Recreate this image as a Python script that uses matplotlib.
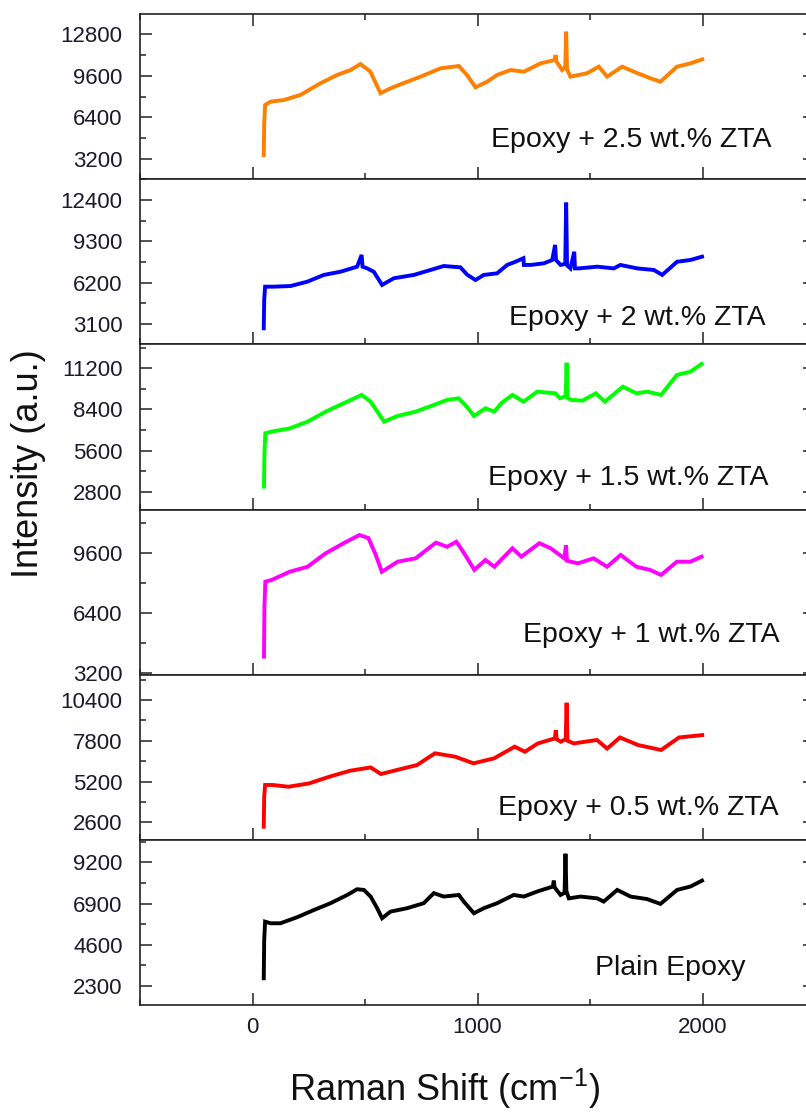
import matplotlib
matplotlib.use("Agg")
import matplotlib.pyplot as plt
from matplotlib.ticker import MultipleLocator, FormatStrFormatter

plt.rcParams['font.family'] = ['Liberation Sans', 'DejaVu Sans']
plt.rcParams['mathtext.fontset'] = 'custom'
plt.rcParams['mathtext.rm'] = 'Liberation Sans'
plt.rcParams['mathtext.it'] = 'Liberation Sans'

# ---------------- data ----------------
labels = ["Epoxy + 2.5 wt.% ZTA", "Epoxy + 2 wt.% ZTA", "Epoxy + 1.5 wt.% ZTA",
          "Epoxy + 1 wt.% ZTA", "Epoxy + 0.5 wt.% ZTA", "Plain Epoxy"]
colors = ["#FF8000", "#0000FF", "#00FF00", "#FF00FF", "#FF0000", "#000000"]

x_25 = [50, 52, 56, 80, 139, 213, 302, 376, 436, 480, 524, 569, 613, 658, 747, 836, 917, 953,
        991, 1043, 1087, 1147, 1206, 1280, 1343, 1347, 1351, 1376, 1390, 1394, 1398, 1413,
        1487, 1539, 1576, 1643, 1695, 1769, 1813, 1887, 1946, 1999]
y_25 = [3500, 5950, 7360, 7610, 7740, 8130, 9030, 9670, 10050, 10510, 9920, 8260, 8640, 8950,
        9540, 10180, 10360, 9670, 8720, 9150, 9670, 10050, 9920, 10560, 10820, 11200, 10700,
        10050, 10300, 13000, 10100, 9540, 9800, 10310, 9540, 10310, 9920, 9410, 9150, 10310,
        10560, 10870]

x_20 = [50, 52, 56, 95, 169, 243, 317, 391, 465, 485, 489, 510, 539, 576, 628, 717, 791, 850,
        924, 954, 991, 1028, 1087, 1132, 1169, 1204, 1206, 1209, 1236, 1295, 1332, 1345, 1349,
        1369, 1390, 1394, 1398, 1413, 1430, 1433, 1450, 1532, 1606, 1635, 1710, 1784, 1821,
        1887, 1946, 1998]
y_20 = [2780, 4900, 5900, 5900, 5950, 6270, 6780, 7020, 7400, 8280, 7400, 7270, 7020, 6030,
        6530, 6780, 7150, 7450, 7350, 6800, 6400, 6780, 6900, 7530, 7770, 8030, 7530, 7530,
        7530, 7650, 7900, 9030, 7900, 7530, 7600, 12200, 7500, 7270, 8520, 7270, 7270, 7400,
        7270, 7530, 7270, 7150, 6780, 7770, 7900, 8150]

x_15 = [51, 53, 57, 85, 165, 245, 325, 405, 485, 525, 555, 585, 645, 725, 805, 865, 916, 946,
        985, 1035, 1075, 1105, 1155, 1205, 1265, 1346, 1366, 1392, 1396, 1400, 1416, 1466,
        1526, 1566, 1646, 1706, 1756, 1816, 1886, 1946, 1996]
y_15 = [3140, 5420, 6780, 6890, 7110, 7570, 8250, 8820, 9390, 8930, 8250, 7570, 7960, 8250,
        8700, 9050, 9160, 8700, 7960, 8480, 8250, 8820, 9390, 8930, 9610, 9500, 9160, 9300,
        11580, 9200, 9050, 9000, 9500, 8930, 9950, 9500, 9610, 9390, 10750, 10970, 11500]

x_10 = [51, 53, 57, 85, 165, 245, 325, 405, 475, 515, 545, 575, 645, 725, 815, 865, 906, 936,
        986, 1035, 1075, 1155, 1195, 1275, 1325, 1386, 1393, 1398, 1446, 1516, 1576, 1636,
        1706, 1766, 1816, 1886, 1946, 1996]
y_10 = [4060, 6740, 8080, 8170, 8610, 8880, 9600, 10140, 10580, 10420, 9600, 8610, 9150, 9330,
        10170, 9950, 10220, 9690, 8710, 9240, 8880, 9870, 9420, 10140, 9870, 9330, 10030, 9200,
        9060, 9330, 8880, 9510, 8880, 8710, 8440, 9150, 9150, 9420]

x_05 = [50, 52, 56, 91, 160, 251, 342, 434, 525, 571, 640, 731, 811, 902, 982, 1074, 1165, 1211,
        1268, 1344, 1348, 1352, 1370, 1392, 1396, 1400, 1428, 1531, 1576, 1633, 1713, 1816,
        1896, 1999]
y_05 = [2320, 4230, 4980, 4980, 4870, 5080, 5510, 5890, 6100, 5680, 5930, 6250, 7000, 6780,
        6360, 6680, 7420, 7100, 7630, 7950, 8480, 7900, 7740, 7900, 10220, 7800, 7630, 7850,
        7300, 8010, 7530, 7210, 8010, 8160]

x_00 = [50, 52, 56, 80, 124, 199, 273, 347, 421, 465, 495, 525, 554, 576, 613, 687, 761, 806,
        850, 917, 939, 984, 1028, 1087, 1161, 1206, 1265, 1335, 1339, 1343, 1369, 1387, 1391,
        1395, 1406, 1458, 1532, 1561, 1621, 1680, 1754, 1813, 1887, 1946, 1998]
y_00 = [2730, 4870, 5890, 5800, 5800, 6140, 6540, 6920, 7380, 7700, 7660, 7290, 6640, 6080,
        6450, 6640, 6920, 7480, 7290, 7380, 7010, 6360, 6640, 6920, 7380, 7290, 7570, 7850,
        8180, 7800, 7380, 7500, 9680, 7600, 7190, 7290, 7190, 7010, 7660, 7290, 7150, 6880,
        7660, 7850, 8180]

xs = [x_25, x_20, x_15, x_10, x_05, x_00]
ys = [y_25, y_20, y_15, y_10, y_05, y_00]

y_steps = [3200, 3100, 2800, 3200, 2600, 2300]
y_lims = [(1645, 14363), (1577, 13960), (1587, 12835), (3093, 11948), (1485, 12012), (1239, 10456)]

# ---------------- layout ----------------
W, H = 806, 1113
fig = plt.figure(figsize=(W / 100, H / 100), dpi=100)

left_px, right_px = 140, 815
top_px, bot_px = 14, 1005
ph = (bot_px - top_px) / 6.0

# label centers (pixels) and baselines
lab_cx = [631, 637, 628, 651, 638, 670]
lab_by = [147, 325, 485, 642, 815, 975]

for i in range(6):
    t = top_px + i * ph
    ax = fig.add_axes([left_px / W, 1 - (t + ph) / H, (right_px - left_px) / W, ph / H])
    ax.plot(xs[i], ys[i], color=colors[i], lw=2.8, solid_joinstyle='miter')
    ax.set_xlim(-500, 2500)
    ax.set_ylim(*y_lims[i])
    ax.xaxis.set_major_locator(MultipleLocator(1000))
    ax.xaxis.set_minor_locator(MultipleLocator(500))
    ax.yaxis.set_major_locator(MultipleLocator(y_steps[i]))
    ax.yaxis.set_minor_locator(MultipleLocator(y_steps[i] / 2))
    ax.yaxis.set_major_formatter(FormatStrFormatter('%d'))
    for s in ax.spines.values():
        s.set_linewidth(1.2)
        s.set_color('#222222')
    ax.tick_params(which='both', direction='in', left=True, right=True,
                   top=(i == 0), bottom=True, width=1.1, color='#222222')
    ax.tick_params(which='major', length=8.6)
    ax.tick_params(which='minor', length=4.5)
    ax.tick_params(axis='y', which='major', labelsize=16, pad=12.5, labelcolor='#1a1a2a')
    ax.tick_params(axis='x', which='major', labelsize=16, pad=9, labelcolor='#1a1a2a')
    if i < 5:
        ax.tick_params(axis='x', labelbottom=False)
    fig.text(lab_cx[i] / W, 1 - lab_by[i] / H, labels[i], ha='center', va='baseline',
             fontsize=20.5, color='#111111')

fig.text(445 / W, 1 - 1101 / H, r'Raman Shift (cm$^{-1}$)', ha='center', va='baseline',
         fontsize=26, color='#111111')
fig.text(29 / W, 1 - 464 / H, 'Intensity (a.u.)', rotation=90, ha='center', va='center',
         fontsize=26, color='#111111')

fig.savefig('out.png', dpi=100)
